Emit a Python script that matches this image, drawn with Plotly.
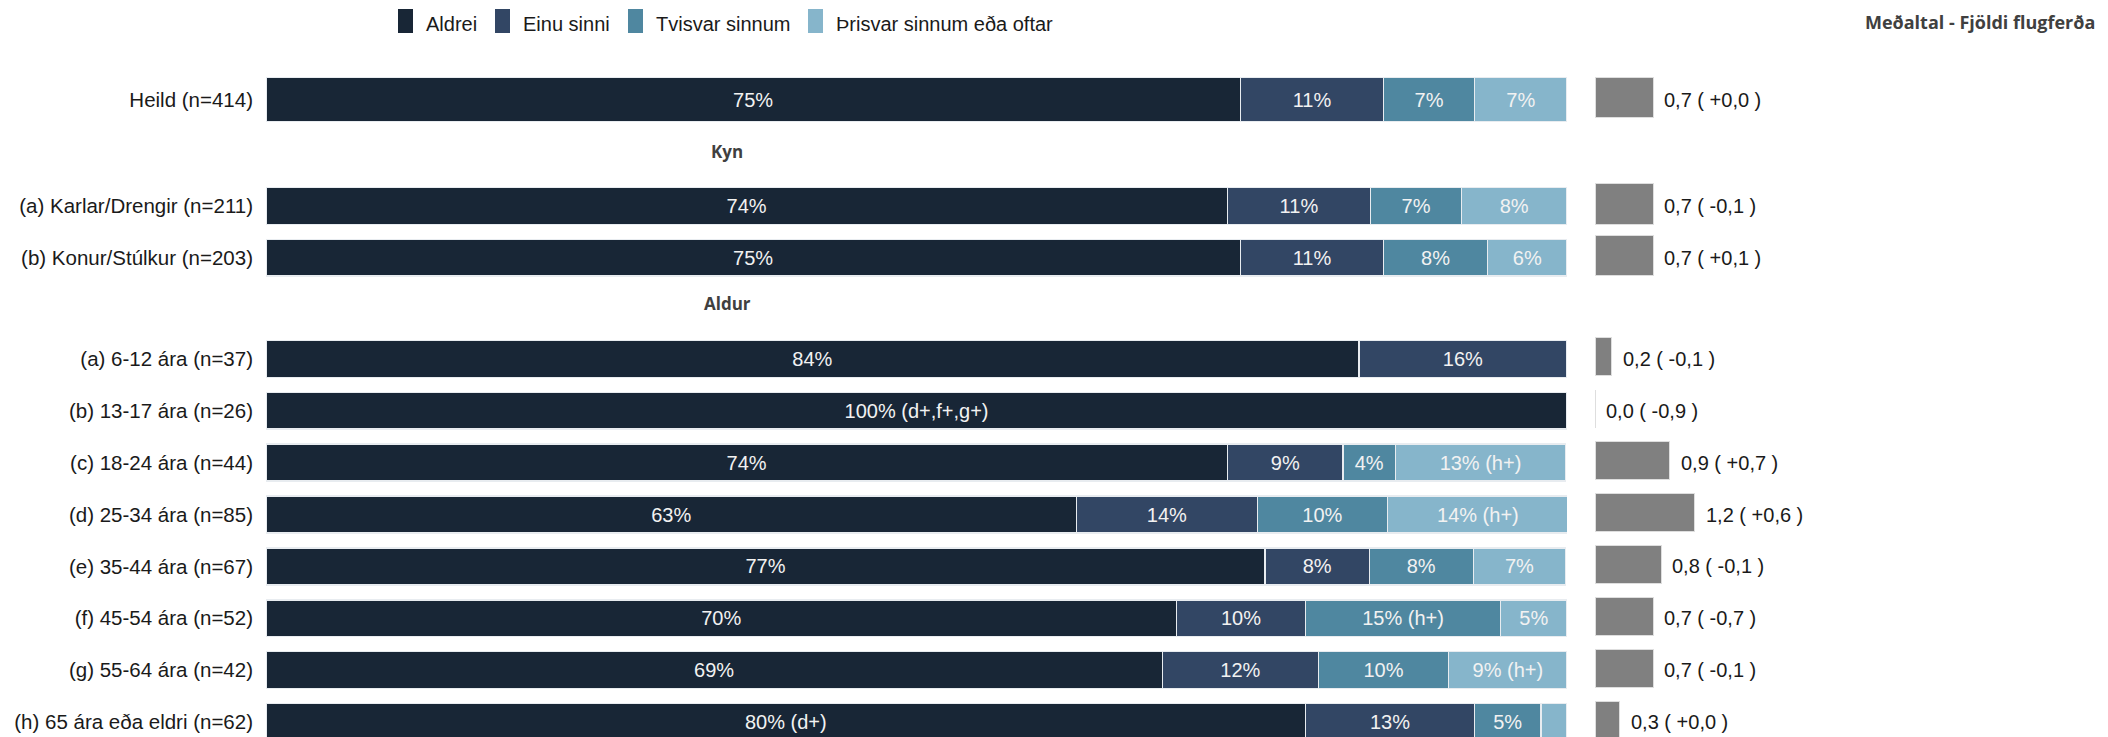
import plotly.graph_objects as go

# ---------------- data ----------------
row_labels = [
    "Heild (n=414)", "", "(a) Karlar/Drengir (n=211)", "(b) Konur/Stúlkur (n=203)", "",
    "(a) 6-12 ára (n=37)", "(b) 13-17 ára (n=26)", "(c) 18-24 ára (n=44)", "(d) 25-34 ára (n=85)",
    "(e) 35-44 ára (n=67)", "(f) 45-54 ára (n=52)", "(g) 55-64 ára (n=42)", "(h) 65 ára eða eldri (n=62)",
]
headers = {1: "Kyn", 4: "Aldur"}

series_names = ["Aldrei", "Einu sinni", "Tvisvar sinnum", "Þrisvar sinnum eða oftar"]
series_colors = ["#182636", "#324664", "#4f87a0", "#86b5cb"]

aldrei = [74.9, None, 73.9, 74.9, None, 84.0, 100.0, 73.9, 62.3, 76.8, 70.0, 68.9, 79.9]
einu = [11.0, None, 11.0, 11.0, None, 16.0, 0, 8.9, 13.9, 8.0, 9.9, 12.0, 13.0]
tvisvar = [7.0, None, 7.0, 8.0, None, 0, 0, 4.0, 10.0, 8.0, 15.0, 10.0, 5.1]
thrisvar = [7.1, None, 8.1, 6.1, None, 0, 0, 13.1, 13.9, 7.1, 5.1, 9.1, 2.0]

aldrei_lbl = ["75%", "", "74%", "75%", "", "84%", "100% (d+,f+,g+)", "74%", "63%", "77%", "70%", "69%", "80% (d+)"]
einu_lbl = ["11%", "", "11%", "11%", "", "16%", "", "9%", "14%", "8%", "10%", "12%", "13%"]
tvisvar_lbl = ["7%", "", "7%", "8%", "", "", "", "4%", "10%", "8%", "15% (h+)", "10%", "5%"]
thrisvar_lbl = ["7%", "", "8%", "6%", "", "", "", "13% (h+)", "14% (h+)", "7%", "5%", "9% (h+)", ""]

means = [0.7, None, 0.7, 0.7, None, 0.2, 0.0, 0.9, 1.2, 0.8, 0.7, 0.7, 0.3]
mean_diff = [0.0, None, -0.1, 0.1, None, -0.1, -0.9, 0.7, 0.6, -0.1, -0.7, -0.1, 0.0]
mean_title = "Meðaltal - Fjöldi flugferða"

# ---------------- layout constants (figure pixels; page has an 8px body margin) ----------------
W, H = 2100, 729
TOP = 60
ROW0, ROW_LAST = 91.5, 714.0
n_rows = len(row_labels)
px_per_row = (ROW_LAST - ROW0) / (n_rows - 1)
# vertical slot of each row (in row units)
row_pos = [0, 1.01, 2.05, 3.05, 3.94, 5.0, 6.0, 7.0, 8.0, 9.0, 10.0, 11.0, 12.0]
main_width = [0.85 if i == 0 else 0.71 for i in range(n_rows)]
mean_width = [0.78 if i < 4 else 0.73 for i in range(n_rows)]
mean_offset = [-w / 2 - 2 / px_per_row for w in mean_width]
legend_x = [390, 487, 620, 800]


def py(Y):
    """figure pixel (from top) -> paper y"""
    return 1 - (Y - TOP) / (H - TOP)


FONT = "Arial, Liberation Sans, sans-serif"

fig = go.Figure()
vals = [aldrei, einu, tvisvar, thrisvar]
lbls = [aldrei_lbl, einu_lbl, tvisvar_lbl, thrisvar_lbl]
for name, color, v, l in zip(series_names, series_colors, vals, lbls):
    fig.add_trace(go.Bar(
        y=row_pos, x=v, orientation="h", name=name, width=main_width,
        marker=dict(color=color, line=dict(color="#e8ecf0", width=1.5)),
        text=l, textposition="inside", insidetextanchor="middle", textangle=0,
        insidetextfont=dict(family=FONT, size=20, color="#f2f2f2"),
        hoverinfo="skip", xaxis="x", yaxis="y", showlegend=False,
    ))

fig.add_trace(go.Bar(
    y=row_pos, x=means, orientation="h", name="Meðaltal", width=mean_width, offset=mean_offset,
    marker=dict(color="#808080", line=dict(color="#dedede", width=1)),
    showlegend=False, hoverinfo="skip", xaxis="x2", yaxis="y",
))


def fmt(v):
    return f"{abs(v):.1f}".replace(".", ",")


annotations = []
shapes = []
for yp, m, d in zip(row_pos, means, mean_diff):
    if m is None:
        continue
    sign = "+" if d >= 0 else "-"
    annotations.append(dict(
        x=m, y=yp, xref="x2", yref="y", xanchor="left", yanchor="middle",
        xshift=9, showarrow=False,
        text=f"{fmt(m)} ( {sign}{fmt(d)} )",
        font=dict(family=FONT, size=20, color="#1a1a1a"),
    ))
for i, t in headers.items():
    annotations.append(dict(
        x=719 / W, y=row_pos[i], xref="paper", yref="y", xanchor="center", yanchor="middle",
        showarrow=False, text=f"<b>{t}</b>",
        font=dict(family="Open Sans, sans-serif", size=17, color="#404040"),
    ))
annotations.append(dict(
    x=2089 / W, y=py(0), xref="paper", yref="paper",
    xanchor="right", yanchor="top", showarrow=False, text=f"<b>{mean_title}</b>",
    font=dict(family="Open Sans, sans-serif", size=18, color="#404040"),
))

# legend (drawn as swatches + text)
for name, color, lx in zip(series_names, series_colors, legend_x):
    shapes.append(dict(
        type="rect", xref="paper", yref="paper",
        x0=lx / W, x1=(lx + 15) / W, y0=py(25), y1=py(1),
        fillcolor=color, line=dict(width=0),
    ))
    annotations.append(dict(
        x=(lx + 26) / W, y=py(15.5), xref="paper", yref="paper",
        xanchor="left", yanchor="middle", showarrow=False, text=name,
        font=dict(family=FONT, size=20, color="#1a1a1a"),
    ))

fig.update_layout(
    width=W, height=H,
    margin=dict(l=0, r=0, t=TOP, b=0),
    paper_bgcolor="white", plot_bgcolor="white",
    barmode="stack",
    font=dict(family=FONT, size=20, color="#1a1a1a"),
    showlegend=False,
    xaxis=dict(domain=[258 / W, 1559 / W], range=[0, 100], showgrid=False,
               zeroline=False, showticklabels=False, showline=False, fixedrange=True),
    xaxis2=dict(domain=[1587 / W, 1.0], range=[0, (W - 1587) / 83], anchor="y", showgrid=False,
                zeroline=False, showticklabels=False, showline=False, fixedrange=True),
    yaxis=dict(range=[n_rows - 1 + (H - ROW_LAST) / px_per_row, -(ROW0 - TOP) / px_per_row],
               tickmode="array", tickvals=row_pos, ticktext=row_labels,
               showgrid=False, zeroline=False, showline=False, ticks="",
               ticklabelstandoff=12, automargin=False,
               tickfont=dict(family=FONT, size=20.5, color="#1a1a1a")),
    annotations=annotations,
    shapes=shapes,
)

fig.write_html("out.html")
